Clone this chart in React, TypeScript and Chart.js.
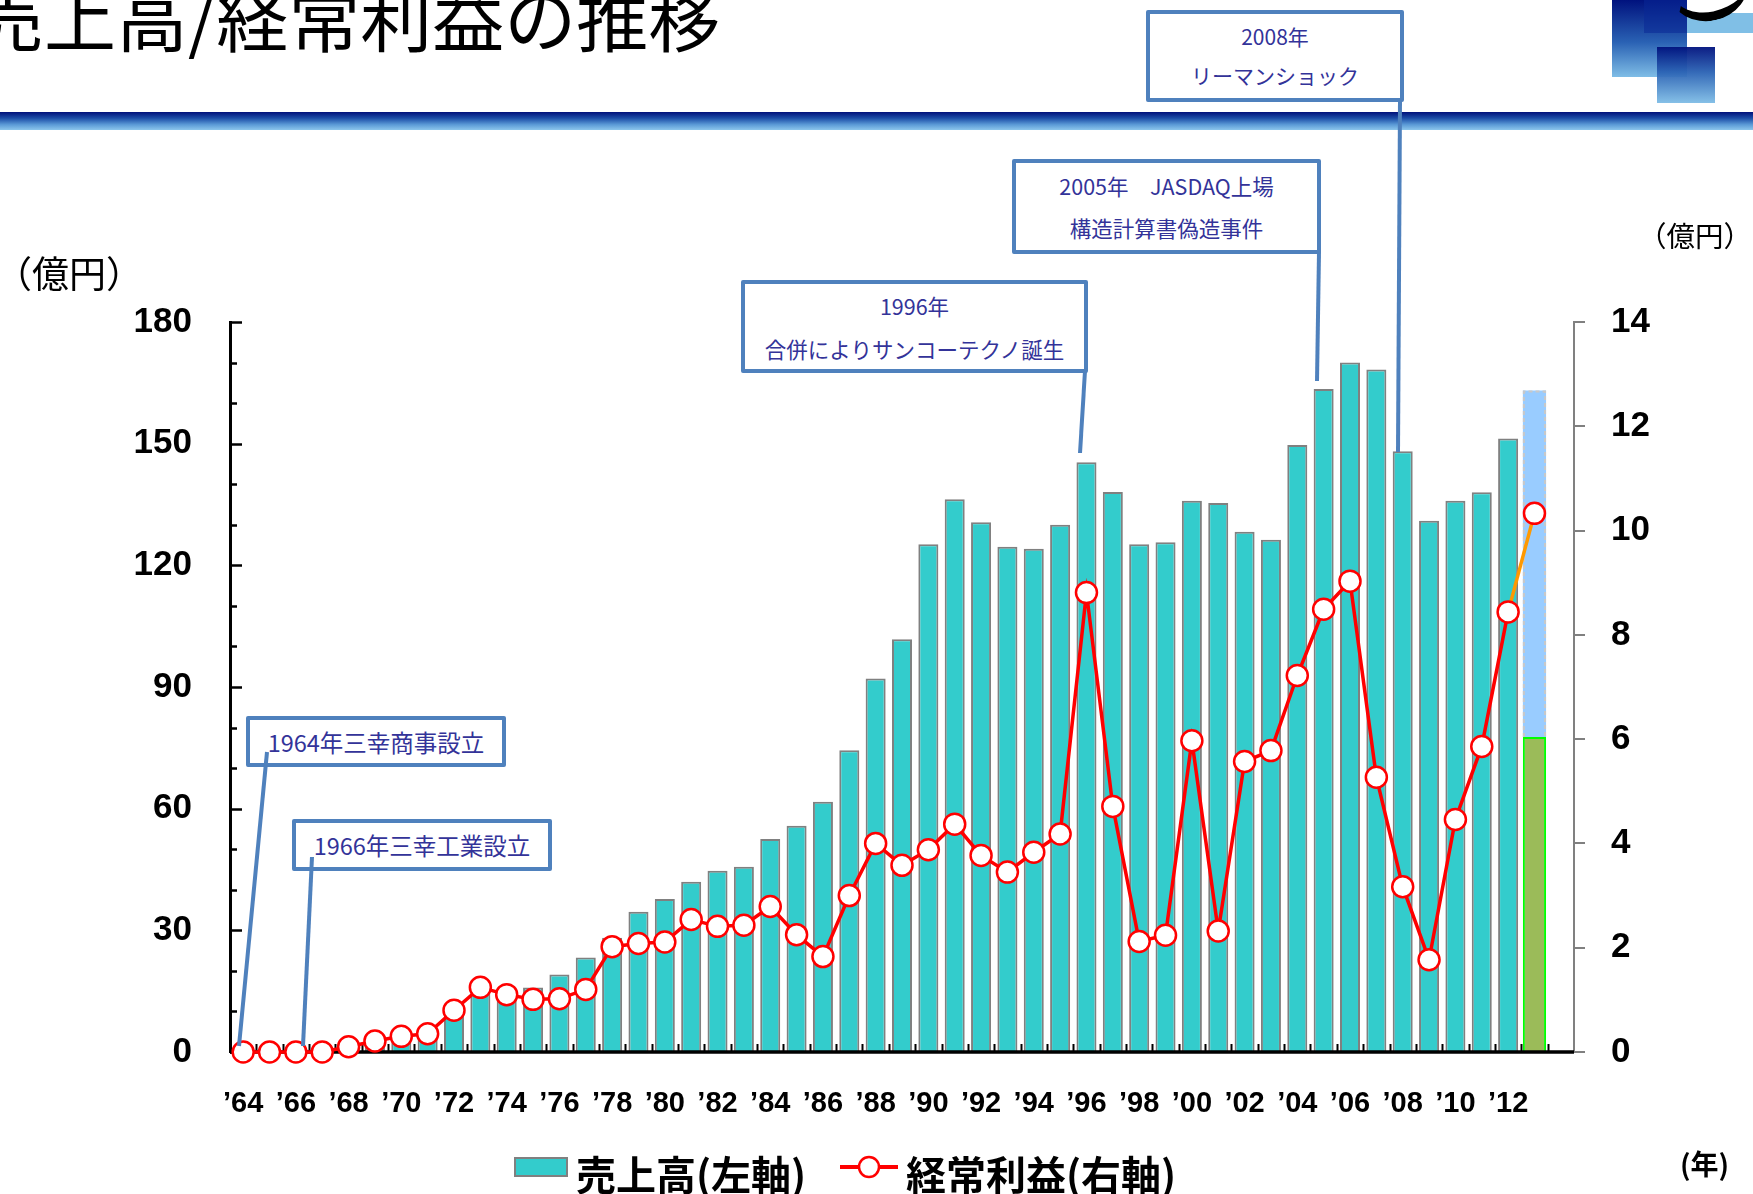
import React, { useEffect, useRef } from 'react';
import { Chart, registerables } from 'chart.js';

Chart.register(...registerables);

// ---------- data ----------
const years = [
  "’64", "’65", "’66", "’67", "’68", "’69", "’70", "’71", "’72", "’73",
  "’74", "’75", "’76", "’77", "’78", "’79", "’80", "’81", "’82", "’83",
  "’84", "’85", "’86", "’87", "’88", "’89", "’90", "’91", "’92", "’93",
  "’94", "’95", "’96", "’97", "’98", "’99", "’00", "’01", "’02", "’03",
  "’04", "’05", "’06", "’07", "’08", "’09", "’10", "’11", "’12", "’13",
];
const xTickLabels = [
  "’64", "’66", "’68", "’70", "’72", "’74", "’76", "’78", "’80", "’82",
  "’84", "’86", "’88", "’90", "’92", "’94", "’96", "’98", "’00", "’02",
  "’04", "’06", "’08", "’10", "’12",
];
// 売上高 (億円) '64 – '12
const salesActual = [
  0, 0, 0, 0.3, 0.8, 1.5, 2.5, 4, 9.5, 14.5,
  15, 15.9, 19.1, 23.3, 28.2, 34.6, 37.7, 42.0, 44.7, 45.7,
  52.5, 55.8, 61.7, 74.4, 92.1, 101.8, 125.2, 136.3, 130.6, 124.6,
  124.1, 130.0, 145.4, 138.1, 125.2, 125.7, 135.9, 135.4, 128.3, 126.3,
  149.7, 163.5, 170.0, 168.3, 148.1, 131.0, 135.9, 138.0, 151.3,
];
// '13: first-half result and full-year forecast (億円)
const sales2013FirstHalf = 77.7;
const sales2013Forecast = 163.1;
// 経常利益 (億円) '64 – '13
const ordinaryProfit = [
  0.0, 0.0, 0.0, 0.0, 0.1, 0.21, 0.3, 0.35, 0.8, 1.24,
  1.1, 1.01, 1.02, 1.2, 2.02, 2.08, 2.11, 2.54, 2.41, 2.43,
  2.79, 2.25, 1.83, 3.0, 4.0, 3.58, 3.88, 4.37, 3.77, 3.45,
  3.83, 4.18, 8.81, 4.71, 2.12, 2.24, 5.97, 2.32, 5.57, 5.78,
  7.22, 8.49, 9.03, 5.27, 3.17, 1.77, 4.46, 5.86, 8.44, 10.33,
];
const leftTicks = [0, 30, 60, 90, 120, 150, 180];
const rightTicks = [0, 2, 4, 6, 8, 10, 12, 14];

// ---------- style ----------
const FONT = "'Noto Sans CJK JP', 'Noto Sans', sans-serif";
const NUM_FONT = "'Liberation Sans', 'DejaVu Sans', sans-serif";
const CALLOUT = '#4f81bd';
const CALLOUT_TEXT = '#333399';

const W = 1753;
const H = 1194;
const AREA = { left: 230, right: 1574, top: 322, bottom: 1052 };

const axisDecor = {
  id: 'axisDecor',
  beforeDatasetDraw(chart: any, args: any) {
    if (args.index !== 0) return;
    const { ctx, chartArea: ca, scales } = chart;
    const x = scales.x;
    const y = scales.y;
    ctx.save();
    ctx.strokeStyle = '#000';
    ctx.lineWidth = 2.5;
    y.ticks.forEach((t: any) => {
      const py = Math.round(y.getPixelForValue(t.value)) + 0.5;
      const len = leftTicks.includes(t.value) ? 12 : 7;
      ctx.beginPath();
      ctx.moveTo(ca.left, py);
      ctx.lineTo(ca.left + len, py);
      ctx.stroke();
    });
    const n = chart.data.labels.length;
    const pitch = x.getPixelForValue(1) - x.getPixelForValue(0);
    ctx.lineWidth = 2;
    for (let i = 1; i < n; i++) {
      const px = Math.round(x.getPixelForValue(i) - pitch / 2) + 0.5;
      ctx.beginPath();
      ctx.moveTo(px, ca.bottom);
      ctx.lineTo(px, ca.bottom - 8);
      ctx.stroke();
    }
    ctx.lineWidth = 3.5;
    ctx.beginPath();
    ctx.moveTo(ca.left, ca.bottom);
    ctx.lineTo(ca.right, ca.bottom);
    ctx.stroke();
    ctx.restore();
  },
  afterDatasetDraw(chart: any, args: any) {
    if (args.index !== 3) return;
    const el = chart.getDatasetMeta(3).data[years.length - 1];
    if (!el) return;
    const p = el.getProps(['x', 'y', 'base', 'width'], true);
    const ctx = chart.ctx;
    ctx.save();
    ctx.strokeStyle = '#c8c8c8';
    ctx.lineWidth = 2;
    ctx.setLineDash([4, 3]);
    ctx.beginPath();
    ctx.moveTo(p.x - p.width / 2 + 1, p.base);
    ctx.lineTo(p.x - p.width / 2 + 1, p.y + 1);
    ctx.lineTo(p.x + p.width / 2 - 1, p.y + 1);
    ctx.lineTo(p.x + p.width / 2 - 1, p.base);
    ctx.stroke();
    ctx.restore();
  },
};

function ChartCanvas() {
  const ref = useRef<HTMLCanvasElement>(null);
  useEffect(() => {
    const canvas = ref.current!;
    const lastIdx = years.length - 1;
    const labels = [...years, ''];
    const salesData = [...salesActual, null, null];
    const h1Data = labels.map((_, i) => (i === lastIdx ? sales2013FirstHalf : null));
    const fcData = labels.map((_, i) => (i === lastIdx ? [sales2013FirstHalf, sales2013Forecast] : null));
    const profitData = [...ordinaryProfit, null];

    const chart = new Chart(canvas, {
      type: 'bar',
      data: {
        labels,
        datasets: [
          {
            type: 'line',
            label: '経常利益(右軸)',
            data: profitData as any,
            yAxisID: 'y1',
            order: 0,
            borderColor: '#ff0000',
            borderWidth: 3.5,
            pointRadius: 10.5,
            pointBorderWidth: 2.5,
            pointBackgroundColor: '#ffffff',
            pointBorderColor: '#ff0000',
            tension: 0,
            clip: false as any,
            segment: {
              borderColor: (c: any) => (c.p1DataIndex === lastIdx ? '#ff9900' : '#ff0000'),
            },
          } as any,
          {
            type: 'bar',
            label: '売上高(左軸)',
            data: salesData as any,
            yAxisID: 'y',
            order: 1,
            backgroundColor: '#33cccc',
            borderColor: '#808080',
            borderWidth: 2,
            borderSkipped: 'bottom',
            barPercentage: 0.76,
            categoryPercentage: 1,
            grouped: false,
          } as any,
          {
            type: 'bar',
            label: '上期実績',
            data: h1Data as any,
            yAxisID: 'y',
            order: 1,
            backgroundColor: '#9bbb59',
            borderColor: '#00ff00',
            borderWidth: 2,
            borderSkipped: 'bottom',
            barPercentage: 0.88,
            categoryPercentage: 1,
            grouped: false,
          } as any,
          {
            type: 'bar',
            label: '通期予想',
            data: fcData as any,
            yAxisID: 'y',
            order: 1,
            backgroundColor: '#99ccff',
            borderWidth: 0,
            borderSkipped: false,
            barPercentage: 0.88,
            categoryPercentage: 1,
            grouped: false,
          } as any,
        ],
      },
      options: {
        responsive: false,
        maintainAspectRatio: false,
        devicePixelRatio: 1,
        animation: false,
        events: [],
        layout: { padding: { top: AREA.top, left: 0, right: 0, bottom: 0 } },
        plugins: { legend: { display: false }, tooltip: { enabled: false } },
        scales: {
          x: {
            type: 'category',
            offset: true,
            grid: { display: false, drawTicks: false, drawOnChartArea: false },
            border: { display: false },
            ticks: {
              autoSkip: false,
              maxRotation: 0,
              minRotation: 0,
              padding: 35,
              color: '#000',
              font: { family: NUM_FONT, size: 29, weight: 'bold' },
              callback: (_v: any, i: number) => (xTickLabels.includes(labels[i]) ? labels[i] : ''),
            },
            afterFit: (s: any) => {
              s.height = H - AREA.bottom;
            },
          },
          y: {
            position: 'left',
            min: 0,
            max: 180,
            grid: { drawOnChartArea: false, drawTicks: false },
            border: { display: true, color: '#000', width: 3 },
            ticks: {
              stepSize: 10,
              autoSkip: false,
              padding: 38,
              color: '#000',
              font: { family: NUM_FONT, size: 35, weight: 'bold' },
              callback: (v: any) => (leftTicks.includes(v) ? String(v) : ''),
            },
            afterFit: (s: any) => {
              s.width = AREA.left;
            },
          },
          y1: {
            position: 'right',
            min: 0,
            max: 14,
            grid: { drawOnChartArea: false, drawTicks: true, tickLength: 11, color: '#808080', lineWidth: 2 },
            border: { display: true, color: '#808080', width: 2 },
            ticks: {
              stepSize: 2,
              autoSkip: false,
              padding: 26,
              color: '#000',
              font: { family: NUM_FONT, size: 35, weight: 'bold' },
              callback: (v: any) => (rightTicks.includes(v) ? String(v) : ''),
            },
            afterFit: (s: any) => {
              s.width = W - AREA.right;
            },
          },
        },
      } as any,
      plugins: [axisDecor],
    });
    return () => chart.destroy();
  }, []);
  return <canvas ref={ref} width={W} height={H} style={{ position: 'absolute', left: 0, top: 0, width: W, height: H }} />;
}

type CalloutProps = { left: number; top: number; width: number; height: number; lines: string[]; size: number; lh: number };
function Callout({ left, top, width, height, lines, size, lh }: CalloutProps) {
  return (
    <div
      style={{
        position: 'absolute',
        left,
        top,
        width,
        height,
        boxSizing: 'border-box',
        border: `4px solid ${CALLOUT}`,
        borderRadius: 2,
        background: '#fff',
        display: 'flex',
        flexDirection: 'column',
        justifyContent: 'center',
        alignItems: 'center',
        color: CALLOUT_TEXT,
        fontSize: size,
        lineHeight: `${lh}px`,
        whiteSpace: 'pre',
      }}
    >
      {lines.map((l, i) => (
        <div key={i}>{l}</div>
      ))}
    </div>
  );
}

export default function App() {
  const abs = (s: React.CSSProperties): React.CSSProperties => ({ position: 'absolute', ...s });
  return (
    <div style={{ position: 'fixed', left: 0, top: 0, width: W, height: H, overflow: 'hidden', background: '#fff', fontFamily: FONT }}>
      {/* title */}
      <div style={abs({ left: -28, top: -21, fontSize: 72, lineHeight: 1, whiteSpace: 'nowrap', color: '#000' })}>売上高/経常利益の推移</div>
      {/* header rule */}
      <div style={abs({ left: 0, top: 112, width: W, height: 18, background: 'linear-gradient(to bottom, #00107a 0%, #1c4ea8 35%, #5b9ad6 70%, #8cc6ec 100%)' })} />
      {/* logo */}
      <div style={abs({ left: 1612, top: 0, width: 75, height: 77, background: 'linear-gradient(to bottom, #00127e, #2a62b4 55%, #7fbde6)' })} />
      <div style={abs({ left: 1644, top: 0, width: 43, height: 33, background: 'rgba(10,40,150,0.55)' })} />
      <div style={abs({ left: 1687, top: 13, width: 66, height: 20, background: '#80bfe6' })} />
      <div style={abs({ left: 1657, top: 47, width: 58, height: 56, background: 'linear-gradient(to bottom, #00127e, #2a62b4 45%, #7fbde6)', opacity: 0.95 })} />
      <div style={abs({ left: 1668, top: -48, width: 76, height: 60, borderRadius: '50%', borderBottom: '9px solid #000', borderLeft: '4px solid transparent', transform: 'rotate(-12deg)' })} />

      <ChartCanvas />

      {/* callouts */}
      <Callout left={1146} top={10} width={258} height={92} lines={['2008年', 'リーマンショック']} size={21} lh={39} />
      <Callout left={1012} top={159} width={309} height={95} lines={['2005年　JASDAQ上場', '構造計算書偽造事件']} size={21.5} lh={42} />
      <Callout left={741} top={280} width={347} height={93} lines={['1996年', '合併によりサンコーテクノ誕生']} size={21.5} lh={43} />
      <Callout left={246} top={716} width={260} height={51} lines={['1964年三幸商事設立']} size={23.5} lh={30} />
      <Callout left={292} top={819} width={260} height={52} lines={['1966年三幸工業設立']} size={23.5} lh={30} />
      <svg width={W} height={H} style={abs({ left: 0, top: 0, pointerEvents: 'none' })}>
        <g stroke={CALLOUT} strokeWidth={4} strokeLinecap="butt">
          <line x1={1400} y1={100} x2={1398} y2={452} />
          <line x1={1319} y1={252} x2={1317} y2={381} />
          <line x1={1085} y1={371} x2={1080} y2={453} />
          <line x1={267} y1={752} x2={239} y2={1046} />
          <line x1={312} y1={857} x2={303} y2={1046} />
        </g>
      </svg>

      {/* unit labels */}
      <div style={abs({ left: -5, top: 250, fontSize: 37, lineHeight: '44px', whiteSpace: 'nowrap' })}>（億円）</div>
      <div style={abs({ left: 1638, top: 218, fontSize: 28.5, lineHeight: '34px', whiteSpace: 'nowrap' })}>（億円）</div>

      {/* legend */}
      <div style={abs({ left: 514, top: 1157, width: 54, height: 20, boxSizing: 'border-box', background: '#33cccc', border: '2px solid #808080' })} />
      <div style={abs({ left: 576, top: 1149, fontSize: 40, lineHeight: '48px', fontWeight: 700, whiteSpace: 'nowrap' })}>売上高(左軸)</div>
      <svg width={70} height={40} style={abs({ left: 835, top: 1147 })}>
        <line x1={5} y1={20} x2={63} y2={20} stroke="#ff0000" strokeWidth={4} />
        <circle cx={34} cy={20} r={10} fill="#fff" stroke="#ff0000" strokeWidth={2.5} />
      </svg>
      <div style={abs({ left: 906, top: 1149, fontSize: 40, lineHeight: '48px', fontWeight: 700, whiteSpace: 'nowrap' })}>経常利益(右軸)</div>
      <div style={abs({ left: 1680, top: 1146, fontSize: 28, lineHeight: '34px', fontWeight: 700, whiteSpace: 'nowrap' })}>(年)</div>
    </div>
  );
}
